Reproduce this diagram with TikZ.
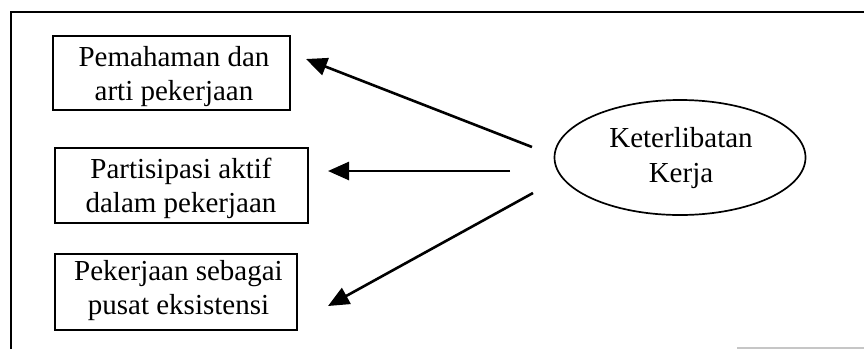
\documentclass[tikz,border=0pt]{standalone}
\usepackage{fontspec}
\setmainfont{Liberation Serif}
\usetikzlibrary{arrows.meta,shapes.geometric}
\begin{document}
\begin{tikzpicture}[x=1pt,y=-1pt,
  itembox/.style={draw,line width=1.9pt,inner sep=0pt},
  txt/.style={font=\fontsize{29}{34}\selectfont,align=center,inner sep=0pt},
  arrowline/.style={line width=2.6pt,-{Triangle[length=21pt,width=18pt]}}]
  \useasboundingbox (0,0) rectangle (864,349);

  % open frame around the figure
  \draw[line width=2.4pt] (11,349) -- (11,12) -- (864,12);
  \draw[line width=1.2pt,gray!45] (737,348) -- (864,348);

  % the three item boxes
  \node[itembox,minimum width=237pt,minimum height=74pt] (b1) at (171.5,73) {};
  \node[itembox,minimum width=253pt,minimum height=75pt] (b2) at (181.5,185.5) {};
  \node[itembox,minimum width=242pt,minimum height=76pt] (b3) at (176,292) {};
  \node[txt] (t1) at (174,77) {Pemahaman dan\\arti pekerjaan};
  \node[txt] (t2) at (181,188) {Partisipasi aktif\\dalam pekerjaan};
  \node[txt] (t3) at (178.5,291) {Pekerjaan sebagai\\pusat eksistensi};

  % central concept
  \node[ellipse,draw,line width=1.7pt,minimum width=251pt,minimum height=115pt,inner sep=0pt] (ell) at (680,157.5) {};
  \node[txt,font=\fontsize{29}{35}\selectfont] (et) at (681,158.5) {Keterlibatan\\Kerja};

  % arrow end points
  \coordinate (s1) at (532,147);
  \coordinate (e1) at (306,59);
  \coordinate (s2) at (510,171);
  \coordinate (e2) at (328,171);
  \coordinate (s3) at (533,193);
  \coordinate (e3) at (328,306);

  \draw[arrowline] (s1) -- (e1);
  \draw[arrowline] (s2) -- (e2);
  \draw[arrowline] (s3) -- (e3);
\end{tikzpicture}
\end{document}
